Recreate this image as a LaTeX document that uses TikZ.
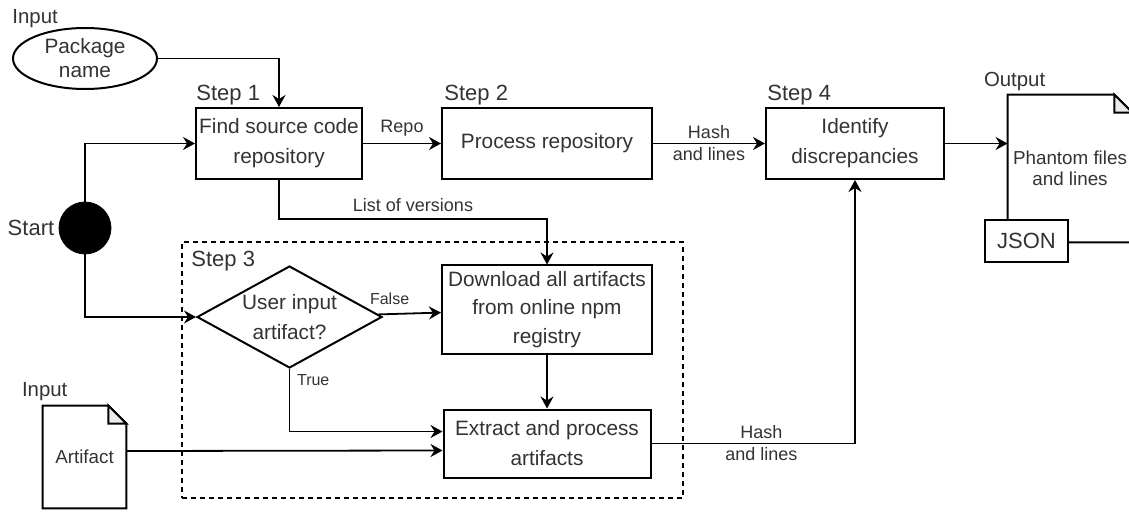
\documentclass[tikz,border=0pt]{standalone}
\usepackage{fontspec}
\setmainfont{Liberation Sans}
\usetikzlibrary{arrows.meta,shapes.geometric}

\begin{document}
\begin{tikzpicture}[x=0.5pt,y=-0.5pt,
process/.style={
rectangle,
draw,
line width=1pt,
inner sep=1pt,
align=center,
text=black!80,
font=\fontsize{10.4}{15}\selectfont
},
docfile/.style={
rectangle,
inner sep=0pt,
align=center,
text=black!80,
font=\fontsize{9.4}{10.5}\selectfont
},
tag/.style={
anchor=base west,
inner sep=0pt,
text=black!80,
font=\fontsize{11}{13}\selectfont
},
flow/.style={
draw,
line width=0.9pt,
-{Stealth[length=6pt,width=6.5pt,inset=2pt]}
},
edgelabel/.style={
align=center,
text=black!80,
font=\fontsize{9}{11}\selectfont
},
small/.style={
font=\fontsize{8}{10}\selectfont
}]
\clip (0,0) rectangle (1129,513);
\fill[white] (0,0) rectangle (1129,513);

% step 3 frame
\node (frame3) [rectangle, draw, line width=1pt, dash pattern=on 2.5pt off 2pt, minimum width=250.5pt, minimum height=128pt] at (432.5,370) {};

% inputs and start
\node (pkg) [ellipse, draw, line width=1pt, inner sep=0pt, minimum width=72pt, minimum height=30.5pt, align=center, text=black!80, font=\fontsize{10.4}{12}\selectfont] at (85,58.5) {Package\\name};
\node (start) [circle, draw, fill=black, minimum size=26pt, inner sep=0pt] at (85,228) {};
\node (startlabel) [anchor=east, inner sep=2pt, text=black!80, font=\fontsize{11}{13}\selectfont] at (start.west) {Start};
\node (artifact) [docfile, minimum width=41.5pt, minimum height=51pt] at (84.5,457) {Artifact};

% steps
\node (finder) [process, minimum width=83pt, minimum height=35.5pt] at (279,143.5) {Find source code\\repository};
\node (processor) [process, right of=finder, node distance=134pt, minimum width=105pt, minimum height=35.5pt] {Process repository};
\node (identify) [process, right of=processor, node distance=154pt, minimum width=89pt, minimum height=35.5pt] {Identify\\discrepancies};
\node (download) [process, below of=processor, node distance=83pt, minimum width=105pt, minimum height=44pt, font=\fontsize{10.4}{14.25}\selectfont] {Download all artifacts\\from online npm\\registry};
\node (extract) [process, below of=download, node distance=67pt, minimum width=103.5pt, minimum height=34pt] {Extract and process\\artifacts};
\node (decide) [diamond, draw, line width=1pt, aspect=1.8, inner sep=0pt, minimum width=92.5pt, minimum height=51pt, align=center, text=black!80, font=\fontsize{10.4}{15}\selectfont] at (289.5,317) {User input\\artifact?};

% output
\node (phantom) [docfile, minimum width=62pt, minimum height=73.5pt] at (1070,168.5) {Phantom files\\and lines};

% document outlines with folded corner
\draw[line width=1pt] (artifact.south west) |- ([xshift=-9pt]artifact.north east) -- ([yshift=-9pt]artifact.north east) -- (artifact.south east) -- cycle;
\filldraw[line width=1pt, fill=gray!15] ([xshift=-9pt]artifact.north east) |- ([yshift=-9pt]artifact.north east) -- cycle;
\draw[line width=1pt] (phantom.south west) |- ([xshift=-9pt]phantom.north east) -- ([yshift=-9pt]phantom.north east) -- (phantom.south east) -- cycle;
\filldraw[line width=1pt, fill=gray!15] ([xshift=-9pt]phantom.north east) |- ([yshift=-9pt]phantom.north east) -- cycle;
\node (json) [process, fill=white, minimum width=41.5pt, minimum height=21pt, font=\fontsize{11}{13}\selectfont] at (1026.5,241) {JSON};

% labels
\node (in1) [tag, font=\fontsize{10.2}{12}\selectfont] at ([yshift=1.5pt]pkg.north -| pkg.west) {Input};
\node (in2) [tag, font=\fontsize{10.2}{12}\selectfont] at ([xshift=-10.5pt,yshift=4.5pt]artifact.north west) {Input};
\node (out) [tag, font=\fontsize{10.2}{12}\selectfont] at ([xshift=-12pt,yshift=4pt]phantom.north west) {Output};
\node (s1tag) [tag] at ([xshift=0.5pt,yshift=3pt]finder.north west) {Step 1};
\node (s2tag) [tag] at ([xshift=1.5pt,yshift=3pt]processor.north west) {Step 2};
\node (s3tag) [tag] at ([xshift=5pt,yshift=-12.5pt]frame3.north west) {Step 3};
\node (s4tag) [tag] at ([xshift=1pt,yshift=3pt]identify.north west) {Step 4};

% connectors
\draw[flow] (pkg.east) -| (finder.north);
\draw[flow] (start.north) |- (finder.west);
\draw[flow] (start.south) |- (decide.west);
\draw[flow] (finder) -- node[edgelabel, above] {Repo} (processor);
\draw[flow] (processor) -- node[edgelabel] {Hash\\and lines} (identify);
\draw[flow] (finder.south) -- ++(0,39) -| node[edgelabel, pos=0.25, above] {List of versions} (download.north);
\draw[flow] (decide) -- node[edgelabel, small, pos=0.18, above, yshift=1pt] {False} (download);
\draw[flow] (decide.south) |- node[edgelabel, small, pos=0.09, right] {True} ([yshift=6pt]extract.west);
\draw[flow] (download) -- (extract);
\draw[flow] ([yshift=3pt]artifact.east) -- ([yshift=-3.5pt]extract.west);
\draw[flow] (extract.east) -| node[edgelabel, pos=0.27] {Hash\\and lines} (identify.south);
\draw[flow] (identify.east) -- (identify.east -| phantom.west);
\end{tikzpicture}
\end{document}
